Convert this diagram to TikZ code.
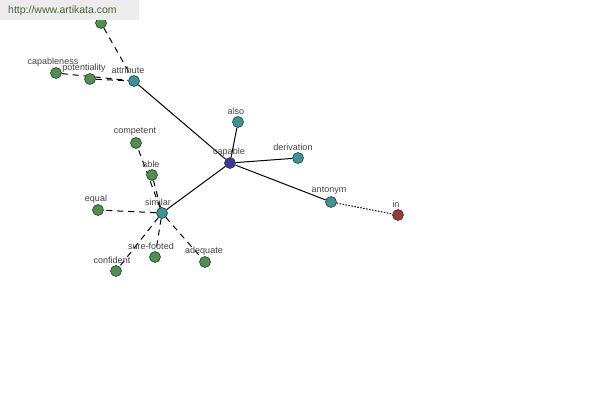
\documentclass[tikz,border=0pt]{standalone}
\usepackage{fontspec}
\setmainfont{Liberation Sans}
\usetikzlibrary{backgrounds}
\definecolor{cgreen}{HTML}{4F8F4F}
\definecolor{cteal}{HTML}{3D9494}
\definecolor{cblue}{HTML}{3B3B96}
\definecolor{cred}{HTML}{943C3C}
\definecolor{ctext}{HTML}{404040}
\definecolor{cbanner}{HTML}{ECECEC}
\definecolor{cbantext}{HTML}{4F5F3A}
\tikzset{
  dot/.style={circle, fill=#1, draw=black!80, line width=0.6pt, minimum size=11pt, inner sep=0pt},
  lab/.style={font=\fontsize{9}{10}\selectfont, text=ctext, inner sep=0pt},
  solidedge/.style={draw=black, line width=1pt},
  dashedge/.style={draw=black, line width=1pt, dash pattern=on 6pt off 5pt},
  dotedge/.style={draw=black, line width=1pt, dash pattern=on 1.5pt off 1.5pt},
}
\begin{document}
\begin{tikzpicture}[x=1pt,y=-1pt]
\useasboundingbox (0,0) rectangle (600,400);
% nodes
\node[dot=cgreen] (top) at (101,23) {};
\node[dot=cgreen] (capableness) at (56,73) {};
\node[dot=cgreen] (potentiality) at (90,79) {};
\node[dot=cteal] (attribute) at (134,81) {};
\node[dot=cblue] (capable) at (230,163) {};
\node[dot=cteal] (also) at (238,122) {};
\node[dot=cteal] (derivation) at (298,158) {};
\node[dot=cteal] (antonym) at (331,202) {};
\node[dot=cred] (in) at (398,215) {};
\node[dot=cgreen] (competent) at (136,143) {};
\node[dot=cgreen] (able) at (152,175) {};
\node[dot=cteal] (similar) at (162,213) {};
\node[dot=cgreen] (equal) at (98,210) {};
\node[dot=cgreen] (surefooted) at (155,257) {};
\node[dot=cgreen] (confident) at (116,271) {};
\node[dot=cgreen] (adequate) at (205,262) {};
% labels
\node[lab] (l1) at (53,62) {capableness};
\node[lab] (l2) at (84,68) {potentiality};
\node[lab] (l3) at (128,70) {attribute};
\node[lab] (l4) at (229,152) {capable};
\node[lab] (l5) at (236,111) {also};
\node[lab] (l6) at (293,147) {derivation};
\node[lab] (l7) at (329,191) {antonym};
\node[lab] (l8) at (396,204) {in};
\node[lab] (l9) at (135,132) {competent};
\node[lab] (l10) at (151,164) {able};
\node[lab] (l11) at (158,202) {similar};
\node[lab] (l12) at (96,199) {equal};
\node[lab] (l13) at (151,246) {sure-footed};
\node[lab] (l14) at (112,260) {confident};
\node[lab] (l15) at (204,251) {adequate};
% edges
\begin{pgfonlayer}{background}
\draw[dashedge] (top) -- (attribute);
\draw[dashedge] (capableness) -- (attribute);
\draw[dashedge] (potentiality) -- (attribute);
\draw[solidedge] (attribute) -- (capable);
\draw[solidedge] (capable) -- (also);
\draw[solidedge] (capable) -- (derivation);
\draw[solidedge] (capable) -- (antonym);
\draw[solidedge] (capable) -- (similar);
\draw[dotedge] (antonym) -- (in);
\draw[dashedge] (similar) -- (competent);
\draw[dashedge] (similar) -- (able);
\draw[dashedge] (similar) -- (equal);
\draw[dashedge] (similar) -- (surefooted);
\draw[dashedge] (similar) -- (confident);
\draw[dashedge] (similar) -- (adequate);
\end{pgfonlayer}
% banner
\node[fill=cbanner, minimum width=139pt, minimum height=20pt, inner sep=0pt, anchor=north west] (banner) at (0,0) {};
\node[font=\fontsize{10.5}{12}\selectfont, text=cbantext, anchor=west, inner sep=0pt] (url) at (8,10.5) {http://www.artikata.com};
\end{tikzpicture}
\end{document}
